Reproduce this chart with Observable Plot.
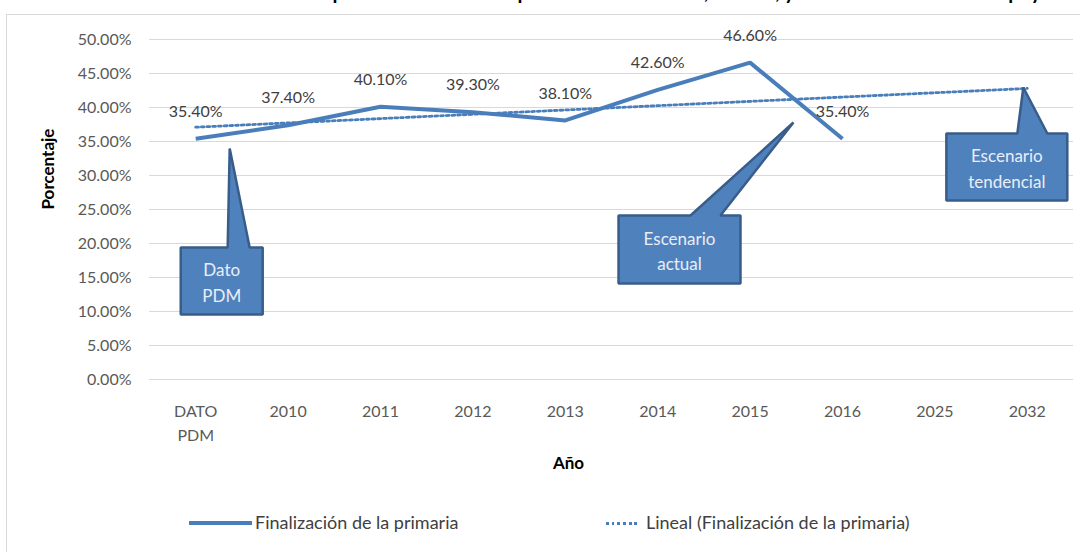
<!DOCTYPE html>
<html>
<head>
<meta charset="utf-8">
<script src="https://cdn.jsdelivr.net/npm/d3@7"></script>
<script src="https://cdn.jsdelivr.net/npm/@observablehq/plot@0.6"></script>
<style>
  html, body { margin: 0; padding: 0; background: #fff; overflow: hidden; }
  body { width: 1080px; height: 552px; position: relative; font-family: Lato, "Open Sans", sans-serif; }
  #title { position: absolute; left: 110px; top: -20px; white-space: nowrap; font-weight: bold; font-size: 20px; line-height: 22px; color: #000; }
  #frame { position: absolute; left: 6px; top: 14px; width: 1100px; height: 560px; border: 1px solid #d9d9d9; box-sizing: border-box; }
  #chart { position: absolute; left: 0; top: 0; }
  .leg { position: absolute; font-size: 18px; color: #404040; white-space: nowrap; line-height: 22px; }
  .sw { position: absolute; }
</style>
</head>
<body>
<div id="title">Tasa de finalización en la primaria en el municipio de Santa Catalina, Bolívar, y escenario al año 2032 apoyo</div>
<div id="frame"></div>
<div id="chart"></div>
<div class="sw" style="left:189px; top:521px; width:63px; height:4px; background:#4a7ebb;"></div>
<div class="leg" style="left:255px; top:511px;">Finalización de la primaria</div>
<div class="sw" style="left:606px; top:522px; width:34px; height:3px; background:repeating-linear-gradient(90deg,#4a7ebb 0 2.8px,transparent 2.8px 5.7px);"></div>
<div class="leg" style="left:646px; top:511px;">Lineal (Finalización de la primaria)</div>
<script>
// ---- data ----
const categories = ["DATO\nPDM", "2010", "2011", "2012", "2013", "2014", "2015", "2016", "2025", "2032"];
const values = [0.354, 0.374, 0.401, 0.393, 0.381, 0.426, 0.466, 0.354, null, null];
const valueLabels = ["35.40%", "37.40%", "40.10%", "39.30%", "38.10%", "42.60%", "46.60%", "35.40%", null, null];
const trendCategories = ["DATO\nPDM", "2032"];
const trendValues = [0.371, 0.428];
const yTicks = [0, 0.05, 0.10, 0.15, 0.20, 0.25, 0.30, 0.35, 0.40, 0.45, 0.50];

// callout annotations (in data units: category index and proportion)
const callouts = [
  {id: "a", lines: "Dato\nPDM", box: [-0.162, 0.725, 0.0956, 0.194], base: [0.346, 0.584], tip: [0.368, 0.3397]},
  {id: "b", lines: "Escenario\nactual", box: [4.576, 5.896, 0.1412, 0.2412], base: [5.355, 5.679], tip: [6.469, 0.378]},
  {id: "c", lines: "Escenario\ntendencial", box: [8.124, 9.433, 0.2632, 0.3618], base: [8.892, 9.217], tip: [8.957, 0.4294]}
];

const idx = c => categories.indexOf(c);
const series = categories.map((c, i) => ({x: i, v: values[i], label: valueLabels[i]})).filter(d => d.v != null);
const trend = trendCategories.map((c, i) => ({x: idx(c), v: trendValues[i]}));
const shapes = callouts.flatMap(c => {
  const [x0, x1, y0, y1] = c.box;
  const pts = [[x0, y1], [c.base[0], y1], c.tip, [c.base[1], y1], [x1, y1], [x1, y0], [x0, y0]];
  return pts.map(([x, y]) => ({id: c.id, x, y}));
});
const calloutText = callouts.map(c => ({x: (c.box[0] + c.box[1]) / 2, y: (c.box[2] + c.box[3]) / 2, t: c.lines}));

const blue = "#4a7ebb";
const chart = Plot.plot({
  width: 1080,
  height: 480,
  marginLeft: 149,
  marginRight: 7,
  marginTop: 39,
  marginBottom: 101,
  style: {fontFamily: "Lato, 'Open Sans', sans-serif", background: "transparent", overflow: "visible"},
  x: {type: "linear", domain: [-0.5, 9.5]},
  y: {domain: [0, 0.5]},
  marks: [
    Plot.gridY(yTicks, {stroke: "#d9d9d9", strokeOpacity: 1, strokeWidth: 1}),
    Plot.axisY(yTicks, {tickSize: 0, tickPadding: 18, fontSize: 16, fill: "#595959", label: null,
      tickFormat: d => (d * 100).toFixed(2) + "%"}),
    Plot.axisX(categories.map((c, i) => i), {tickSize: 0, tickPadding: 20, fontSize: 16, fill: "#595959", label: null,
      tickFormat: i => categories[i], lineHeight: 1.5}),
    Plot.line(trend, {x: "x", y: "v", stroke: blue, strokeWidth: 2.8, strokeDasharray: "2.8,2.9"}),
    Plot.line(series, {x: "x", y: "v", stroke: blue, strokeWidth: 4, strokeLinejoin: "miter", strokeLinecap: "butt"}),
    Plot.text(series, {x: "x", y: "v", text: "label", dy: -27, fontSize: 16, fill: "#404040"}),
    Plot.line(shapes, {x: "x", y: "y", z: "id", fill: "#4f81bd", stroke: "#385d8a", strokeWidth: 2.5, curve: "linear-closed", strokeLinejoin: "miter"}),
    Plot.text(calloutText, {x: "x", y: "y", text: "t", fill: "#e9eef7", fontSize: 17, lineHeight: 1.5}),
    Plot.text(["Porcentaje"], {frameAnchor: "left", dx: -101, rotate: -90, fontWeight: "bold", fontSize: 17, fill: "#000"}),
    Plot.text(["Año"], {frameAnchor: "bottom", dy: 89, dx: -43, fontWeight: "bold", fontSize: 17, fill: "#000"})
  ]
});
document.getElementById("chart").appendChild(chart);
</script>
</body>
</html>
